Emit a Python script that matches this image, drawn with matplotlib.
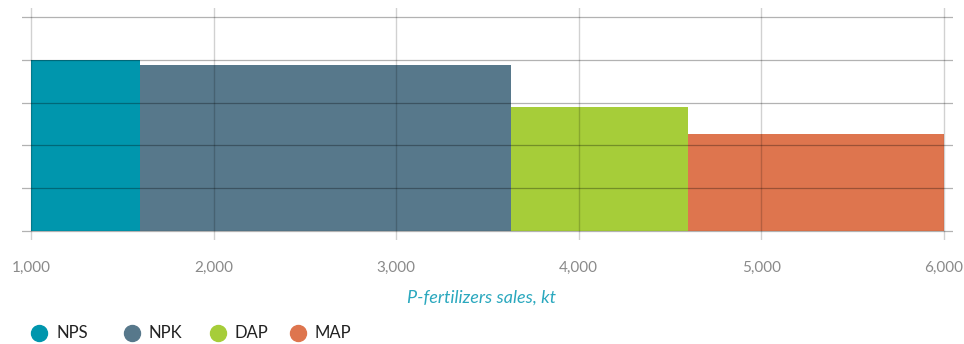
import matplotlib.pyplot as plt
from matplotlib.lines import Line2D

plt.rcParams['font.family'] = ['Lato', 'DejaVu Sans']

# Fertilizer types, their sales volumes (bar widths, kt) and bar heights
categories = ["NPS", "NPK", "DAP", "MAP"]
sales_kt = [595, 2035, 968, 1402]
heights = [4.0, 3.88, 2.90, 2.26]
colors = ["#0096AD", "#57788B", "#A6CD39", "#DE754E"]

x_start = 1000
x_ticks = [1000, 2000, 3000, 4000, 5000, 6000]
x_tick_labels = ["1,000", "2,000", "3,000", "4,000", "5,000", "6,000"]
y_ticks = [0, 1, 2, 3, 4, 5]

W, H = 964, 344
fig = plt.figure(figsize=(W / 100, H / 100), dpi=100)
ax = fig.add_axes([0.0227, 0.3032, 0.9657, 0.6727])

left = x_start
for name, w, h, c in zip(categories, sales_kt, heights, colors):
    ax.bar(left, h, width=w, align="edge", color=c, linewidth=0, zorder=1)
    left += w

ax.set_xlim(950, 6050)
ax.set_ylim(-0.21, 5.21)
ax.set_xticks(x_ticks)
ax.set_xticklabels(x_tick_labels)
ax.set_yticks(y_ticks)
ax.set_yticklabels([])

ax.set_axisbelow(False)
ax.grid(axis="y", color="black", alpha=0.3, linewidth=0.9, zorder=3)
ax.grid(axis="x", color="black", alpha=0.18, linewidth=1.0, zorder=3)

for s in ax.spines.values():
    s.set_visible(False)
ax.tick_params(axis="both", length=0)
ax.tick_params(axis="x", pad=15.5, labelsize=11, labelcolor="#8a8a8a")

fig.text(0.499, 0.134, "P-fertilizers sales, kt", ha="center", va="center",
         fontsize=13, style="italic", color="#2AA8BE")

# Legend row along the bottom: dot followed by its label
legend_x_px = [39, 132, 218, 298]
legend_y = 1 - 333 / H
for name, c, px in zip(categories, colors, legend_x_px):
    fig.add_artist(Line2D([px / W], [legend_y], transform=fig.transFigure,
                          marker="o", markersize=11.5, linestyle="none",
                          markerfacecolor=c, markeredgecolor=c))
    fig.text((px + 17) / W, legend_y, name, ha="left", va="center",
             fontsize=12, color="#222222")

fig.savefig("out.png", dpi=100, facecolor="white")
